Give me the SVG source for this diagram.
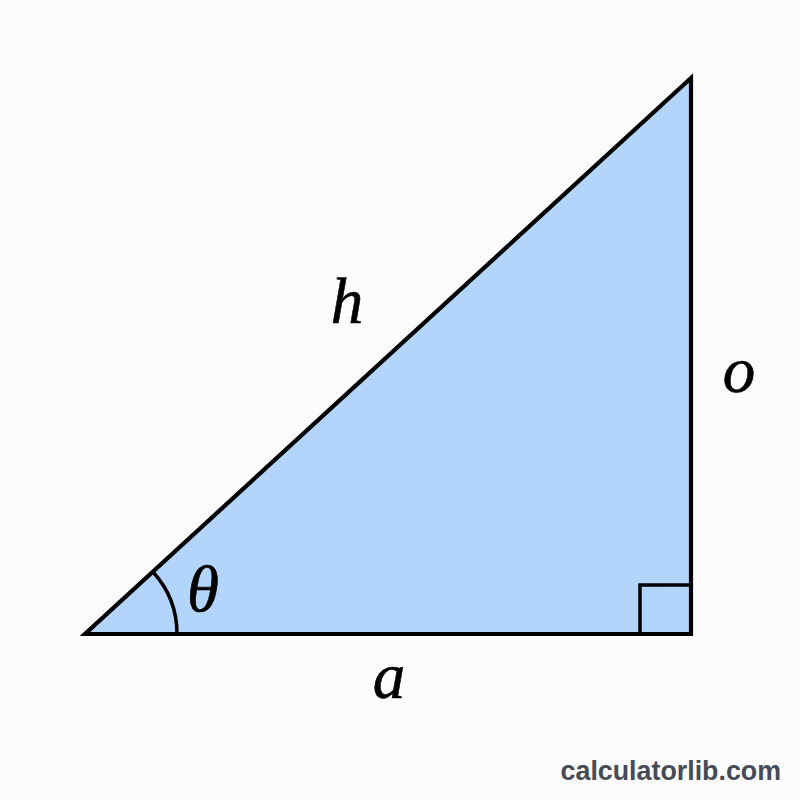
<svg xmlns="http://www.w3.org/2000/svg" width="800" height="800" viewBox="0 0 800 800">
<style>
.lbl{font-family:"Liberation Serif","DejaVu Serif",serif;font-style:italic;font-size:65px;fill:#000;text-anchor:middle;stroke:#000;stroke-width:0.6}
.ln{fill:none;stroke:#000;stroke-width:3.5;stroke-linejoin:miter}
</style>
<rect width="800" height="800" fill="#fcfcfc"/>
<g id="triangle">
<polygon points="85,634 691,634 691,78" fill="#b3d4fb" stroke="#000" stroke-width="4.2" stroke-linejoin="miter"/>
</g>
<g id="marks">
<polyline class="ln" points="640,634 640,585 691,585"/>
<path class="ln" d="M177,634 A92,92 0 0 0 152.8,571.8"/>
</g>
<g id="labels">
<text class="lbl" x="347" y="323">h</text>
<text class="lbl" x="739" y="392">o</text>
<text class="lbl" x="203" y="611">θ</text>
<text class="lbl" x="389" y="698">a</text>
</g>
<text x="781" y="780" text-anchor="end" font-family="'Liberation Sans',Arial,sans-serif" font-weight="bold" font-size="26.8" fill="#454b57">calculatorlib.com</text>
</svg>
